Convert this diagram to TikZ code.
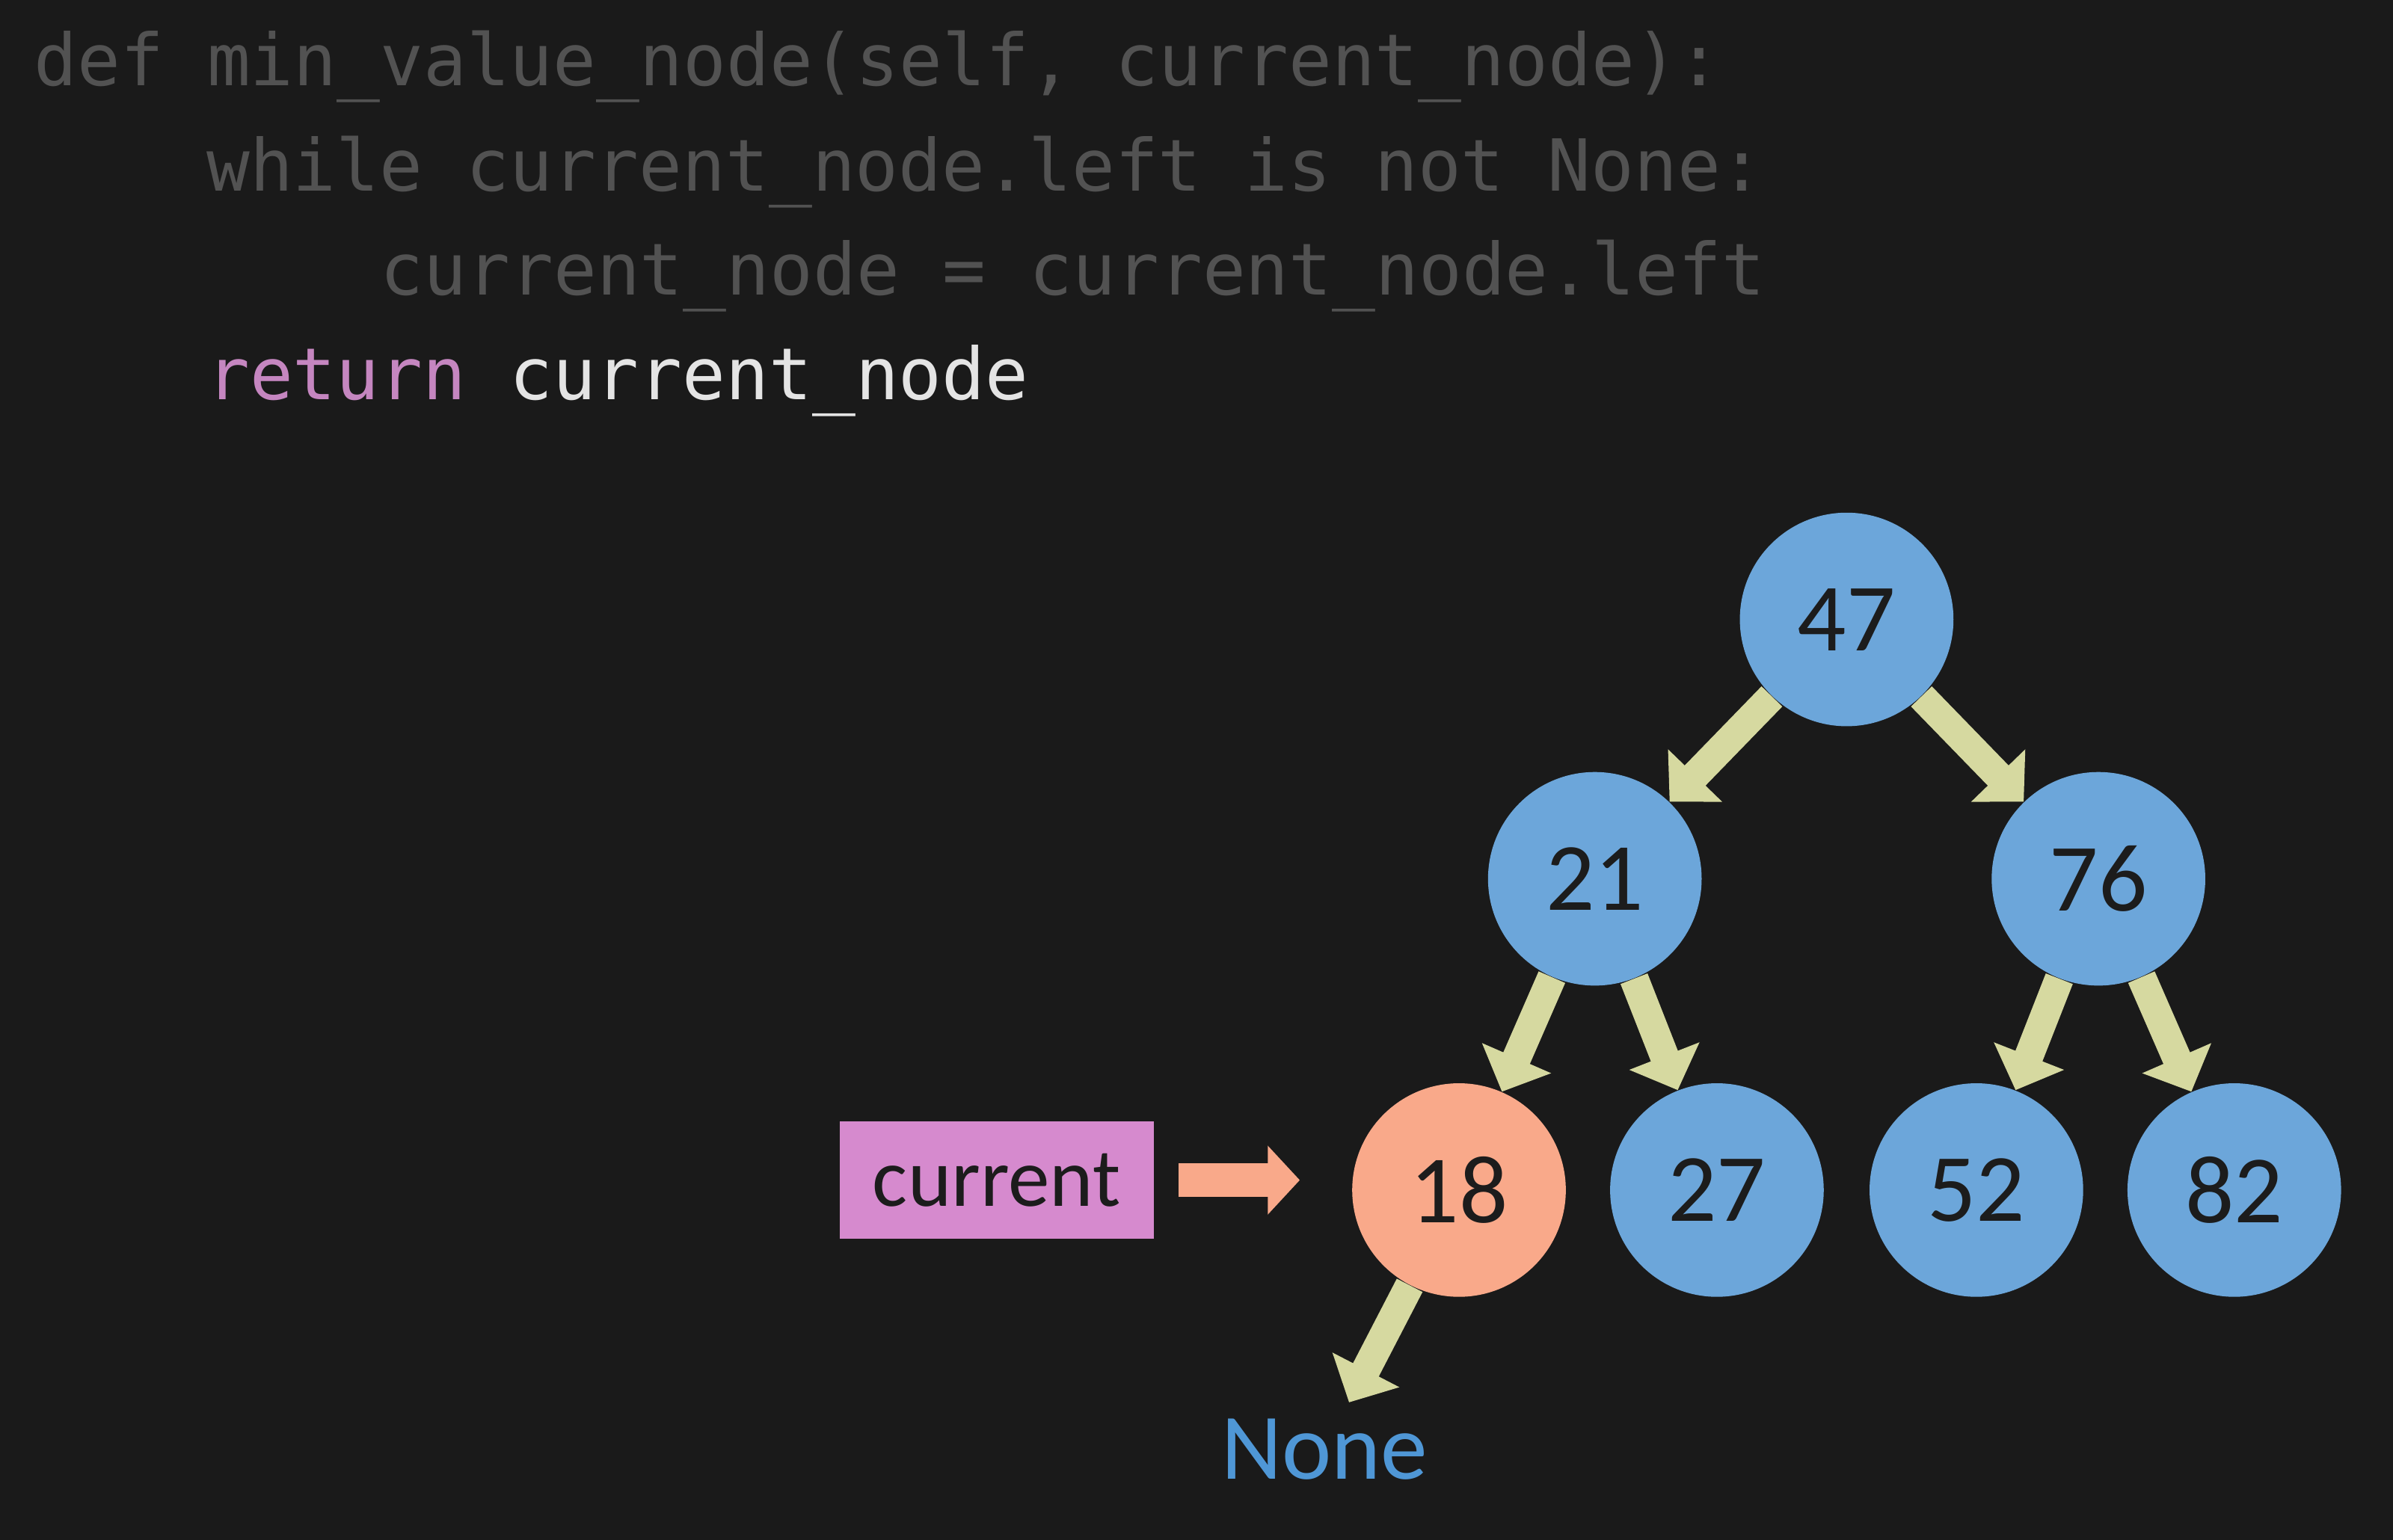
\documentclass[tikz,border=0pt]{standalone}
\usepackage{fontspec}
\setmainfont{Carlito}
\setmonofont{DejaVu Sans Mono}
\usetikzlibrary{positioning}
\usetikzlibrary{arrows.meta}
\definecolor{bgdark}{HTML}{1A1A1A}
\definecolor{nodeblue}{HTML}{6CA6DA}
\definecolor{nodeorange}{HTML}{F9A98A}
\definecolor{arrowolive}{HTML}{D6D9A0}
\definecolor{boxpink}{HTML}{D68ACE}
\definecolor{textdark}{HTML}{1C1C1C}
\definecolor{noneblue}{HTML}{4F97D6}
\definecolor{codegray}{HTML}{525252}
\definecolor{kwpurple}{HTML}{C586C0}
\definecolor{codewhite}{HTML}{E4E4E4}
\tikzset{
    mynode/.style = {circle, fill=nodeblue, minimum size=2.8cm, inner sep=0pt, text=textdark, font=\fontsize{36}{36}\selectfont},
    mynodeo/.style = {mynode, fill=nodeorange},
    curbox/.style = {rectangle, fill=boxpink, minimum width=4.12cm, minimum height=1.54cm, text=textdark, font=\fontsize{31}{31}\selectfont},
    nonetext/.style = {inner sep=6pt, text=noneblue, font=\fontsize{35}{35}\selectfont},
    edgey/.style = {-{Triangle[width=0.96cm,length=0.48cm]}, line width=0.38cm, draw=arrowolive},
    edgeo/.style = {-{Triangle[width=0.88cm,length=0.42cm]}, line width=0.44cm, draw=nodeorange, shorten <=0.32cm, shorten >=0.68cm},
    codeline/.style = {anchor=base west, inner sep=0pt, text=codegray, font=\ttfamily\fontsize{26.8}{26.8}\selectfont}
}
\begin{document}
\begin{tikzpicture}[x=0.02cm, y=-0.02cm]
\useasboundingbox (0,0) rectangle (1568,1009);
\fill[bgdark] (-10,-10) rectangle (1578,1019);
%
\node[codeline] at (22,56) (l1) {def min\_value\_node(self, current\_node):};
\node[codeline] at (135,125) (l2) {while current\_node.left is not None:};
\node[codeline] at (249,193.5) (l3) {current\_node = current\_node.left};
\node[codeline] at (135,262) (l4) {\textcolor{kwpurple}{return} \textcolor{codewhite}{current\_node}};
%
\node[mynode] at (1210,406) (n47) {47};
\node[mynode] at (1045,576) (n21) {21};
\node[mynode] at (1375,576) (n76) {76};
\node[mynodeo] at (956,780) (n18) {18};
\node[mynode] at (1125,780) (n27) {27};
\node[mynode] at (1295,780) (n52) {52};
\node[mynode] at (1464,780) (n82) {82};
\node[nonetext] at (868,950) (none) {None};
\node[curbox] at (653,773.5) (cur) {current};
%
\draw[edgey] (n47) -- (n21);
\draw[edgey] (n47) -- (n76);
\draw[edgey] (n21) -- (n18);
\draw[edgey] (n21) -- (n27);
\draw[edgey] (n76) -- (n52);
\draw[edgey] (n76) -- (n82);
\draw[edgey] (n18) -- (none);
\draw[edgeo] (cur.east) -- (cur.east -| n18.west);
\end{tikzpicture}
\end{document}
